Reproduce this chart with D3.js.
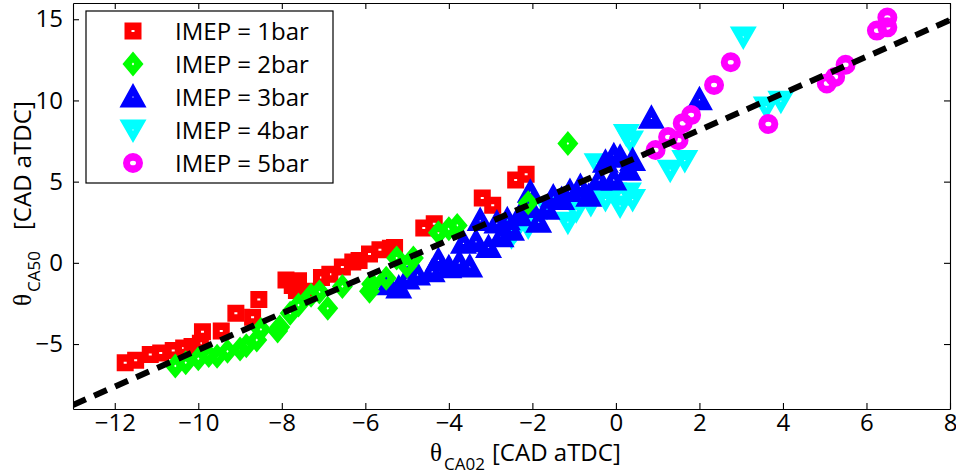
<!DOCTYPE html>
<html>
<head>
<meta charset="utf-8">
<script src="https://cdn.jsdelivr.net/npm/d3@7"></script>
<style>
  body { margin: 0; background: #fff; }
  svg { display: block; }
  .axis text { font-family: "Open Sans", sans-serif; font-size: 24px; fill: #000; }
  .axis path, .axis line { stroke: #000; stroke-width: 1.1; }
</style>
</head>
<body>
<svg id="chart" width="956" height="476"></svg>
<script>
// Combustion phasing: CA50 versus CA02 crank angle, one series per load (IMEP)
const imep1 = [
  [-11.75,-6.15],[-11.5,-6.0],[-11.15,-5.65],[-10.9,-5.55],[-10.6,-5.4],[-10.35,-5.25],
  [-10.15,-5.15],[-9.95,-4.95],[-9.9,-4.25],[-9.45,-4.2],[-9.1,-3.1],[-8.7,-3.35],
  [-8.55,-2.25],[-7.9,-1.05],[-7.75,-1.4],[-7.65,-1.7],[-7.6,-1.1],[-7.4,-1.75],
  [-7.05,-0.9],[-6.85,-0.7],[-6.55,-0.25],[-6.3,0.05],[-6.15,0.15],[-5.9,0.55],
  [-5.65,0.8],[-5.4,0.9],[-5.3,0.95],[-4.6,2.15],[-4.35,2.4],[-3.2,4.0],[-2.95,3.55],
  [-2.4,5.1],[-2.15,5.45]
];
const imep2 = [
  [-10.55,-6.35],[-10.3,-6.15],[-10.0,-5.9],[-9.75,-5.7],[-9.55,-5.75],[-9.3,-5.45],
  [-9.0,-5.3],[-8.85,-5.1],[-8.6,-4.75],[-8.5,-4.1],[-8.1,-4.2],[-8.05,-3.95],
  [-7.8,-3.1],[-7.6,-2.6],[-7.3,-2.0],[-7.1,-1.8],[-6.9,-2.8],[-6.55,-1.45],
  [-5.9,-1.75],[-5.85,-1.3],[-5.5,-0.95],[-5.25,0.3],[-5.0,-0.2],[-4.85,0.3],
  [-4.25,1.85],[-4.0,2.1],[-3.8,2.3],[-2.1,3.7],[-1.15,7.35]
];
const imep3 = [
  [-5.45,-1.35],[-5.2,-1.55],[-5.0,-1.0],[-4.75,-0.75],[-4.4,-0.55],[-4.25,0.15],
  [-4.0,-0.3],[-3.75,0.0],[-3.5,-0.25],[-3.65,1.2],[-3.35,1.3],[-3.05,0.95],
  [-3.25,2.6],[-2.85,2.45],[-2.6,2.65],[-2.75,1.6],[-2.5,2.0],[-2.3,2.9],
  [-2.05,3.4],[-2.05,4.35],[-1.85,2.5],[-1.65,3.3],[-1.5,4.05],[-1.3,3.9],
  [-1.1,4.4],[-0.85,4.7],[-0.65,4.1],[-0.4,5.1],[-0.25,6.2],[-0.05,6.6],
  [-0.05,5.1],[0.1,6.5],[0.3,5.7],[0.4,6.3],[0.85,8.9],[2.0,10.05]
];
const imep4 = [
  [-2.5,1.6],[-2.4,2.0],[-2.1,2.2],[-1.65,3.4],[-1.15,2.5],[-0.95,3.2],[-0.6,3.6],
  [-0.45,6.1],[-0.25,3.9],[-0.05,4.3],[0.1,3.5],[0.25,7.9],[0.3,4.3],[0.4,3.9],
  [0.35,7.5],[1.3,5.7],[1.65,6.3],[3.05,13.9],[3.6,9.6],[3.95,9.95]
];
const imep5 = [
  [0.95,6.95],[1.25,7.75],[1.5,7.55],[1.6,8.6],[1.8,9.1],[2.35,10.95],[2.75,12.35],
  [3.65,8.55],[5.05,11.05],[5.25,11.45],[5.5,12.2],[6.25,14.3],[6.5,14.5],[6.5,15.1]
];

const seriesNames = ["IMEP = 1bar", "IMEP = 2bar", "IMEP = 3bar", "IMEP = 4bar", "IMEP = 5bar"];
const seriesColors = ["#ff0000", "#00ff00", "#0000ff", "#00ffff", "#ff00ff"];
const seriesSymbols = ["square", "diamond", "triangleUp", "triangleDown", "circle"];
const seriesData = [imep1, imep2, imep3, imep4, imep5];
const drawOrder = [0, 3, 2, 1, 4];

const xTicks = [-12, -10, -8, -6, -4, -2, 0, 2, 4, 6, 8];
const yTicks = [-5, 0, 5, 10, 15];
const xDomain = [-13, 8];
const yDomain = [-9, 16];
// dashed trend line end points
const trendLine = [[-13, -8.75], [8, 14.95]];

const svg = d3.select("#chart");
const plot = { left: 73, right: 950, top: 3, bottom: 409 };

const x = d3.scaleLinear().domain(xDomain).range([plot.left, plot.right]);
const y = d3.scaleLinear().domain(yDomain).range([plot.bottom, plot.top]);

// Thick-edged hollow markers: outer outline with a tiny see-through centre
function symbolPath(sym) {
  switch (sym) {
    case "square":
      return "M-8.5,-8.5H8.5V8.5H-8.5Z M-1.5,-1H1.5V1H-1.5Z";
    case "diamond":
      return "M0,-12.5L10.5,0L0,12.5L-10.5,0Z M0,-1.4L1.2,0L0,1.4L-1.2,0Z";
    case "triangleUp":
      return "M0,-14L13.5,10.5L-13.5,10.5Z M0,-0.9L0.8,0.6L-0.8,0.6Z";
    case "triangleDown":
      return "M0,13L13.5,-10.5L-13.5,-10.5Z M0,0.9L0.8,-0.6L-0.8,-0.6Z";
    case "circle":
      return "M10,0A10,10 0 1,1 -10,0A10,10 0 1,1 10,0Z M3,0A3,2.3 0 1,0 -3,0A3,2.3 0 1,0 3,0Z";
  }
}

svg.append("defs").append("clipPath").attr("id", "plotClip")
  .append("rect")
  .attr("x", plot.left).attr("y", plot.top)
  .attr("width", plot.right - plot.left).attr("height", plot.bottom - plot.top);

// Axes on all four sides with inward ticks
const axisBottom = d3.axisBottom(x).tickValues(xTicks).tickSizeInner(-6).tickSizeOuter(0).tickPadding(5);
const axisTop = d3.axisTop(x).tickValues(xTicks).tickSizeInner(-6).tickSizeOuter(0).tickFormat("");
const axisLeft = d3.axisLeft(y).tickValues(yTicks).tickSizeInner(-6).tickSizeOuter(0).tickPadding(10);
const axisRight = d3.axisRight(y).tickValues(yTicks).tickSizeInner(-6).tickSizeOuter(0).tickFormat("");

svg.append("g").attr("class", "axis").attr("transform", `translate(0,${plot.bottom})`).call(axisBottom);
svg.append("g").attr("class", "axis").attr("transform", `translate(0,${plot.top})`).call(axisTop);
svg.append("g").attr("class", "axis").attr("transform", `translate(${plot.left},0)`).call(axisLeft);
svg.append("g").attr("class", "axis").attr("transform", `translate(${plot.right},0)`).call(axisRight);
svg.selectAll(".axis .domain").attr("stroke-width", 1.4);

// Scatter markers
const marks = svg.append("g").attr("clip-path", "url(#plotClip)");
drawOrder.forEach(i => {
  marks.append("g")
    .selectAll("path")
    .data(seriesData[i])
    .join("path")
    .attr("transform", d => `translate(${x(d[0])},${y(d[1])})`)
    .attr("d", symbolPath(seriesSymbols[i]))
    .attr("fill", seriesColors[i])
    .attr("fill-rule", "evenodd");
});

// Dashed trend line
svg.append("path")
  .attr("clip-path", "url(#plotClip)")
  .attr("d", d3.line().x(d => x(d[0])).y(d => y(d[1]))(trendLine))
  .attr("fill", "none")
  .attr("stroke", "#000")
  .attr("stroke-width", 6)
  .attr("stroke-dasharray", "14,9");

// Legend
const legend = svg.append("g");
legend.append("rect")
  .attr("x", 86).attr("y", 11).attr("width", 247).attr("height", 172)
  .attr("fill", "#fff").attr("stroke", "#000").attr("stroke-width", 1.2);
seriesNames.forEach((name, i) => {
  const rowY = 31 + i * 33;
  legend.append("path")
    .attr("transform", `translate(133,${rowY})`)
    .attr("d", symbolPath(seriesSymbols[i]))
    .attr("fill", seriesColors[i])
    .attr("fill-rule", "evenodd");
  legend.append("text")
    .attr("x", 175).attr("y", rowY).attr("dy", "0.36em")
    .style("font-family", "'Open Sans', sans-serif")
    .style("font-size", "24px")
    .text(name);
});

// Axis titles: theta with subscript, then the unit
function axisTitle(g, sub, unitOffset) {
  g.append("text").attr("x", 0).attr("y", 0)
    .style("font-family", "'Liberation Serif', serif").style("font-size", "25px")
    .text("\u03B8");
  g.append("text").attr("x", 14).attr("y", 9)
    .style("font-family", "'Open Sans', sans-serif").style("font-size", "17px")
    .text(sub);
  g.append("text").attr("x", unitOffset).attr("y", 0)
    .style("font-family", "'Open Sans', sans-serif").style("font-size", "24px")
    .text("[CAD aTDC]");
}
axisTitle(svg.append("g").attr("transform", "translate(430,461)"), "CA02", 62);
axisTitle(svg.append("g").attr("transform", "translate(31,306) rotate(-90)"), "CA50", 76);
</script>
</body>
</html>
